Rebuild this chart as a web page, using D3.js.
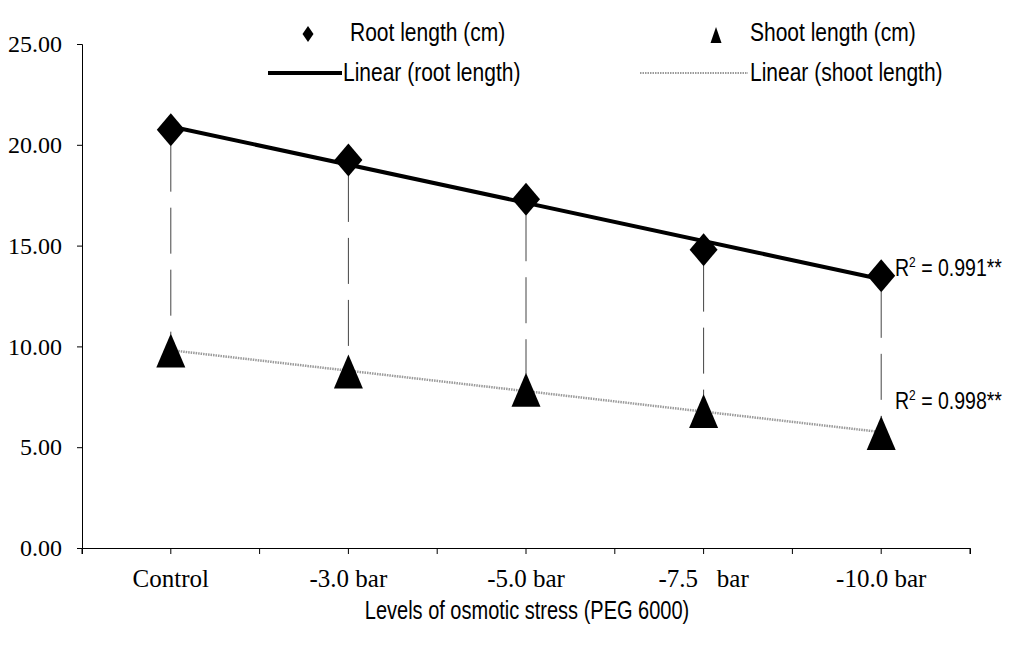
<!DOCTYPE html>
<html>
<head>
<meta charset="utf-8">
<script src="https://cdn.jsdelivr.net/npm/d3@7"></script>
<style>
  body { margin: 0; background: #fff; }
  svg { display: block; }
</style>
</head>
<body>
<div id="chart"></div>
<script>
const categories = ["Control", "-3.0 bar", "-5.0 bar", "-7.5   bar", "-10.0 bar"];
const rootLength = [20.75, 19.25, 17.3, 14.8, 13.5];
const shootLength = [9.8, 8.75, 7.85, 6.8, 5.7];
const yTicks = [0, 5, 10, 15, 20, 25];
const r2Labels = ["0.991**", "0.998**"];
const legendLabels = ["Root length (cm)", "Shoot length (cm)", "Linear (root length)", "Linear (shoot length)"];

const width = 1015, height = 650;
const margin = {top: 44, right: 45, bottom: 102, left: 82};
const serif = "'Liberation Serif', 'Times New Roman', serif";
const sans = "'Liberation Sans', Arial, sans-serif";

const svg = d3.select("#chart").append("svg")
    .attr("width", width)
    .attr("height", height);

const x = d3.scaleBand()
    .domain(categories)
    .range([margin.left, width - margin.right]);

const y = d3.scaleLinear()
    .domain([0, 25])
    .range([height - margin.bottom, margin.top]);

const cx = d => x(d) + x.bandwidth() / 2;

// least squares trend over category index 1..n
function trend(vals) {
    const n = vals.length;
    const xs = vals.map((v, i) => i + 1);
    const mx = d3.mean(xs), my = d3.mean(vals);
    const slope = d3.sum(xs, (xi, i) => (xi - mx) * (vals[i] - my)) / d3.sum(xs, xi => (xi - mx) ** 2);
    const b = my - slope * mx;
    return [{c: categories[0], v: slope * 1 + b}, {c: categories[n - 1], v: slope * n + b}];
}

// sans text in the original is stretched tall
function tallText(sel, px, py, size) {
    return sel.append("text")
        .attr("transform", `translate(${px},${py}) scale(1,1.25)`)
        .style("font-family", sans)
        .style("font-size", size + "px");
}

// y axis
const yAxis = svg.append("g")
    .attr("transform", `translate(${margin.left},0)`)
    .call(d3.axisLeft(y).tickValues(yTicks).tickFormat(d3.format(".2f")).tickSize(5).tickPadding(15));
yAxis.selectAll("text").style("font-family", serif).style("font-size", "24px").attr("fill", "#000");
yAxis.selectAll("line, path").attr("stroke", "#000");

// x axis: labels under centres, ticks at centres and boundaries
const xAxis = svg.append("g")
    .attr("transform", `translate(0,${y(0)})`)
    .call(d3.axisBottom(x).tickSizeOuter(0).tickSize(6).tickPadding(15));
xAxis.selectAll("text").style("font-family", serif).style("font-size", "25px")
    .attr("fill", "#000").style("white-space", "pre");
xAxis.selectAll("line, path").attr("stroke", "#000");

xAxis.selectAll(".bound")
    .data(categories.map(c => x(c)).concat([x.range()[1]]))
    .enter()
    .append("line")
    .attr("class", "bound")
    .attr("x1", d => d).attr("x2", d => d)
    .attr("y1", 0).attr("y2", 6)
    .attr("stroke", "#000");

tallText(svg, 527, 619, 20)
    .attr("text-anchor", "middle")
    .text("Levels of osmotic stress (PEG 6000)");

// high-low drop lines
svg.selectAll(".drop")
    .data(categories)
    .enter()
    .append("line")
    .attr("class", "drop")
    .attr("x1", cx).attr("x2", cx)
    .attr("y1", (d, i) => y(rootLength[i]) + 16)
    .attr("y2", (d, i) => y(shootLength[i]) - 16)
    .attr("stroke", "#444")
    .attr("stroke-width", 1)
    .attr("stroke-dasharray", "46,16");

// trend lines
const line = d3.line().x(d => cx(d.c)).y(d => y(d.v));

svg.append("path")
    .datum(trend(shootLength))
    .attr("d", line)
    .attr("fill", "none")
    .attr("stroke", "#9a9a9a")
    .attr("stroke-width", 2.5)
    .attr("stroke-dasharray", "1.5,1");

// markers
const diamond = "M0,-16.5L14,0L0,16.5L-14,0Z";
const triangle = "M0,-17L14.5,17L-14.5,17Z";

svg.selectAll(".root")
    .data(categories)
    .enter()
    .append("path")
    .attr("class", "root")
    .attr("d", diamond)
    .attr("transform", (d, i) => `translate(${cx(d)},${y(rootLength[i])})`)
    .attr("fill", "#000");

svg.selectAll(".shoot")
    .data(categories)
    .enter()
    .append("path")
    .attr("class", "shoot")
    .attr("d", triangle)
    .attr("transform", (d, i) => `translate(${cx(d)},${y(shootLength[i])})`)
    .attr("fill", "#000");

svg.append("path")
    .datum(trend(rootLength))
    .attr("d", line)
    .attr("fill", "none")
    .attr("stroke", "#000")
    .attr("stroke-width", 4);

// R² labels
r2Labels.forEach((d, i) => {
    const t = tallText(svg, 895, [276, 409][i], 19.5);
    t.append("tspan").text("R");
    t.append("tspan").attr("dy", -7).style("font-size", "12px").text("2");
    t.append("tspan").attr("dy", 7).text(" = " + d);
});

// legend
const legend = svg.append("g");

legend.append("path").attr("d", "M0,-8L5.5,0L0,8L-5.5,0Z").attr("transform", "translate(308,34)");
legend.append("path").attr("d", "M0,-8L5.5,8L-5.5,8Z").attr("transform", "translate(716,35)");
legend.append("line").attr("x1", 268).attr("x2", 342).attr("y1", 73).attr("y2", 73)
    .attr("stroke", "#000").attr("stroke-width", 4);
legend.append("line").attr("x1", 640).attr("x2", 748).attr("y1", 73).attr("y2", 73)
    .attr("stroke", "#9a9a9a").attr("stroke-width", 2).attr("stroke-dasharray", "1.5,1");

legendLabels.forEach((d, i) => {
    tallText(legend, [350, 750, 343, 750][i], i < 2 ? 41 : 81, 21).text(d);
});
</script>
</body>
</html>
